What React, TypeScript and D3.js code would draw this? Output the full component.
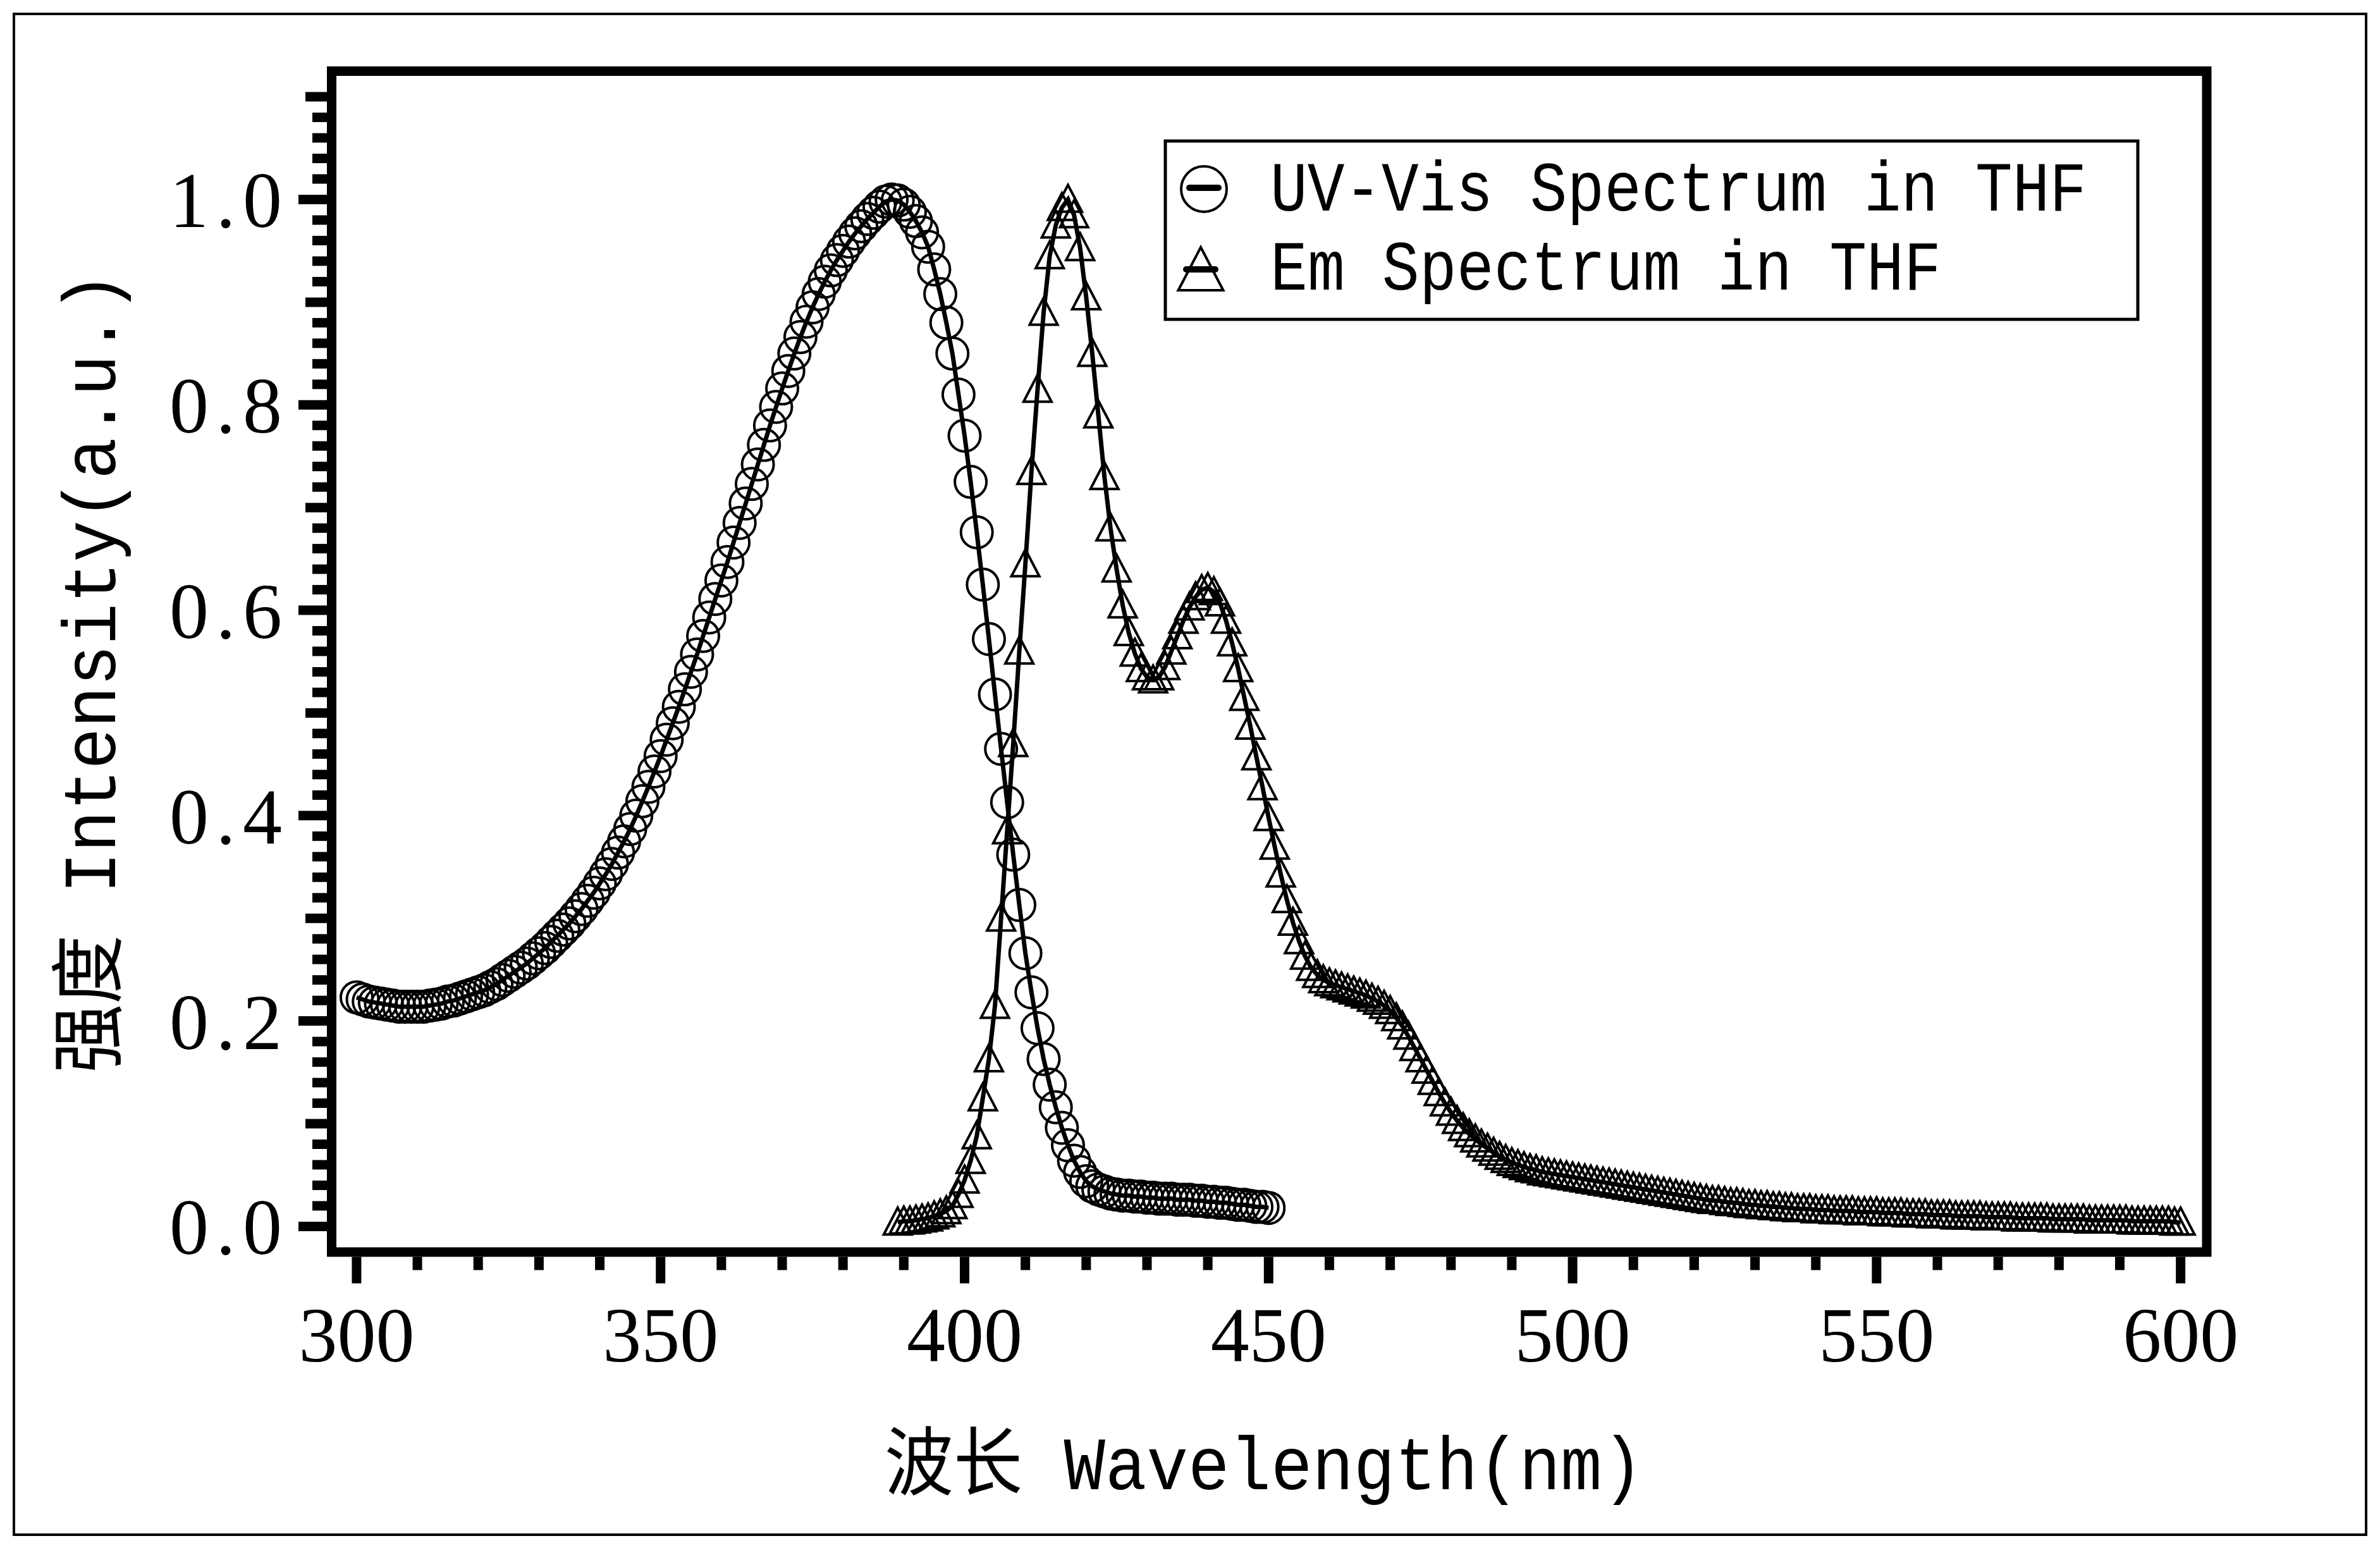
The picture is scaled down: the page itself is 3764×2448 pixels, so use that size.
import React, { useEffect, useRef } from 'react';
import * as d3 from 'd3';

const W = 3764;
const H = 2448;

// UV-Vis absorption, one point per nm starting at 300 nm
const uvStart = 300;
const uvValues = [
  0.223, 0.221, 0.219, 0.218, 0.217, 0.216, 0.215, 0.214, 0.214, 0.214,
  0.214, 0.214, 0.215, 0.216, 0.217, 0.219, 0.220, 0.222, 0.224, 0.226,
  0.228, 0.230, 0.233, 0.236, 0.240, 0.244, 0.248, 0.252, 0.256, 0.261,
  0.266, 0.271, 0.277, 0.283, 0.289, 0.295, 0.302, 0.309, 0.317, 0.325,
  0.334, 0.343, 0.353, 0.364, 0.375, 0.387, 0.400, 0.414, 0.428, 0.443,
  0.458, 0.474, 0.490, 0.506, 0.523, 0.540, 0.557, 0.575, 0.593, 0.611,
  0.629, 0.647, 0.666, 0.685, 0.704, 0.723, 0.742, 0.761, 0.780, 0.798,
  0.816, 0.833, 0.850, 0.866, 0.881, 0.895, 0.908, 0.920, 0.931, 0.941,
  0.950, 0.959, 0.967, 0.974, 0.981, 0.987, 0.993, 0.998, 1.000, 0.999,
  0.995, 0.988, 0.979, 0.968, 0.954, 0.932, 0.908, 0.880, 0.850, 0.810,
  0.770, 0.725, 0.676, 0.625, 0.572, 0.518, 0.465, 0.413, 0.362, 0.313,
  0.266, 0.228, 0.193, 0.163, 0.138, 0.116, 0.096, 0.079, 0.064, 0.053,
  0.044, 0.039, 0.036, 0.034, 0.032, 0.031, 0.030, 0.030, 0.029, 0.029,
  0.028, 0.028, 0.027, 0.027, 0.027, 0.026, 0.026, 0.026, 0.025, 0.025,
  0.024, 0.024, 0.023, 0.023, 0.022, 0.021, 0.021, 0.020, 0.019, 0.019,
  0.018,
];

// emission, one point per nm starting at 389 nm
const emStart = 389;
const emValues = [
  0.004, 0.005, 0.005, 0.006, 0.007, 0.008, 0.010, 0.012, 0.015, 0.020,
  0.031, 0.045, 0.064, 0.088, 0.125, 0.163, 0.215, 0.300, 0.385, 0.470,
  0.560, 0.645, 0.735, 0.815, 0.890, 0.945, 0.975, 0.992, 1.000, 0.985,
  0.953, 0.905, 0.850, 0.790, 0.730, 0.680, 0.640, 0.605, 0.578, 0.558,
  0.543, 0.535, 0.532, 0.535, 0.545, 0.560, 0.575, 0.590, 0.603, 0.613,
  0.620, 0.622, 0.618, 0.607, 0.590, 0.568, 0.543, 0.515, 0.487, 0.457,
  0.428, 0.398, 0.370, 0.343, 0.318, 0.296, 0.278, 0.263, 0.252, 0.245,
  0.240, 0.237, 0.235, 0.233, 0.231, 0.229, 0.227, 0.225, 0.222, 0.219,
  0.215, 0.210, 0.203, 0.195, 0.185, 0.174, 0.163, 0.152, 0.141, 0.130,
  0.120, 0.111, 0.103, 0.096, 0.090, 0.085, 0.080, 0.076, 0.072, 0.068,
  0.065, 0.062, 0.060, 0.058, 0.056, 0.055, 0.053, 0.052, 0.051, 0.050,
  0.049, 0.048, 0.047, 0.046, 0.045, 0.044, 0.043, 0.042, 0.041, 0.040,
  0.039, 0.038, 0.037, 0.036, 0.035, 0.034, 0.033, 0.032, 0.031, 0.030,
  0.029, 0.028, 0.027, 0.026, 0.025, 0.025, 0.024, 0.023, 0.023, 0.022,
  0.021, 0.021, 0.020, 0.020, 0.019, 0.019, 0.018, 0.018, 0.017, 0.017,
  0.017, 0.016, 0.016, 0.016, 0.015, 0.015, 0.015, 0.015, 0.014, 0.014,
  0.014, 0.014, 0.013, 0.013, 0.013, 0.013, 0.012, 0.012, 0.012, 0.012,
  0.011, 0.011, 0.011, 0.011, 0.010, 0.010, 0.010, 0.010, 0.010, 0.009,
  0.009, 0.009, 0.009, 0.009, 0.008, 0.008, 0.008, 0.008, 0.008, 0.008,
  0.007, 0.007, 0.007, 0.007, 0.007, 0.007, 0.006, 0.006, 0.006, 0.006,
  0.006, 0.006, 0.006, 0.005, 0.005, 0.005, 0.005, 0.005, 0.005, 0.005,
  0.004, 0.004,
];

const xTickLabels = [300, 350, 400, 450, 500, 550, 600];
const yTickLabels = ['0.0', '0.2', '0.4', '0.6', '0.8', '1.0'];
const legendLabels = ['UV-Vis Spectrum in THF', 'Em Spectrum in THF'];
const xTitle = '波长 Wavelength(nm)';
const yTitle = '强度 Intensity(a.u.)';

const monoFont = '"Liberation Mono", "DejaVu Sans Mono", "Noto Sans CJK SC", monospace';
const serifFont = '"Liberation Serif", "DejaVu Serif", serif';

const trianglePath = (s: number) =>
  `M0,${-s} L${s * 0.96},${s * 0.84} L${-s * 0.96},${s * 0.84} Z`;

const App = () => {
  const ref = useRef<SVGSVGElement>(null);

  useEffect(() => {
    document.body.style.margin = '0';
    const svg = d3.select(ref.current);
    svg.selectAll('*').remove();

    const x = d3.scaleLinear().domain([295.9, 604.3]).range([524.5, 3490]);
    const y = d3.scaleLinear().domain([-0.025, 1.125]).range([1980, 112.5]);
    const [x0, x1] = x.range();
    const [y0, y1] = y.range();
    const axisW = 15;

    // outer border
    svg.append('rect')
      .attr('x', 22).attr('y', 22).attr('width', 3720).attr('height', 2405)
      .attr('fill', '#fff').attr('stroke', '#000').attr('stroke-width', 4);

    const uv = uvValues.map((v, i) => ({ w: uvStart + i, v }));
    const em = emValues.map((v, i) => ({ w: emStart + i, v }));

    const line = d3.line<{ w: number; v: number }>()
      .x(d => x(d.w))
      .y(d => y(d.v));

    // curves
    svg.append('path').datum(uv)
      .attr('d', line).attr('fill', 'none').attr('stroke', '#000').attr('stroke-width', 7);
    svg.append('path').datum(em)
      .attr('d', line).attr('fill', 'none').attr('stroke', '#000').attr('stroke-width', 7);

    svg.append('g').selectAll('circle')
      .data(uv).enter().append('circle')
      .attr('cx', d => x(d.w)).attr('cy', d => y(d.v)).attr('r', 25)
      .attr('fill', 'none').attr('stroke', '#000').attr('stroke-width', 4);

    svg.append('g').selectAll('path')
      .data(em).enter().append('path')
      .attr('d', trianglePath(23))
      .attr('transform', d => `translate(${x(d.w)},${y(d.v)})`)
      .attr('fill', 'none').attr('stroke', '#000').attr('stroke-width', 4)
      .attr('stroke-linejoin', 'miter');

    // plot frame
    svg.append('rect')
      .attr('x', x0).attr('y', y1).attr('width', x1 - x0).attr('height', y0 - y1)
      .attr('fill', 'none').attr('stroke', '#000').attr('stroke-width', axisW);

    // x ticks
    const xTicks = d3.range(300, 601, 10);
    svg.append('g').selectAll('line')
      .data(xTicks).enter().append('line')
      .attr('x1', d => x(d)).attr('x2', d => x(d))
      .attr('y1', y0 + axisW / 2)
      .attr('y2', d => y0 + axisW / 2 + (d % 50 === 0 ? 42 : 21))
      .attr('stroke', '#000').attr('stroke-width', 15);

    // y ticks
    const yTicks = d3.range(0, 56);
    svg.append('g').selectAll('line')
      .data(yTicks).enter().append('line')
      .attr('y1', d => y(d / 50)).attr('y2', d => y(d / 50))
      .attr('x1', x0 - axisW / 2)
      .attr('x2', d => x0 - axisW / 2 - (d % 10 === 0 ? 45 : d % 5 === 0 ? 34 : 23))
      .attr('stroke', '#000').attr('stroke-width', 15);

    // tick labels
    svg.append('g').selectAll('text')
      .data(xTickLabels).enter().append('text')
      .attr('x', d => x(d)).attr('y', 2153)
      .attr('text-anchor', 'middle')
      .style('font-family', serifFont).style('font-size', '122px')
      .text(d => String(d));

    svg.append('g').selectAll('text')
      .data(yTickLabels).enter().append('text')
      .attr('x', 268).attr('y', d => y(+d) + 44)
      .attr('textLength', 178).attr('lengthAdjust', 'spacing')
      .style('font-family', serifFont).style('font-size', '124px')
      .text(d => d);

    // axis titles
    svg.append('text')
      .attr('x', 1399).attr('y', 2355)
      .attr('textLength', 1200).attr('lengthAdjust', 'spacingAndGlyphs')
      .style('font-family', monoFont).style('font-size', '118px')
      .text(xTitle);

    svg.append('text')
      .attr('transform', 'translate(182,1697) rotate(-90)')
      .attr('textLength', 1267).attr('lengthAdjust', 'spacingAndGlyphs')
      .style('font-family', monoFont).style('font-size', '118px')
      .text(yTitle);

    // legend
    const lg = svg.append('g');
    lg.append('rect')
      .attr('x', 1843).attr('y', 223).attr('width', 1538).attr('height', 282)
      .attr('fill', '#fff').attr('stroke', '#000').attr('stroke-width', 5);

    lg.append('circle')
      .attr('cx', 1904).attr('cy', 299).attr('r', 36)
      .attr('fill', 'none').attr('stroke', '#000').attr('stroke-width', 4);
    lg.append('line')
      .attr('x1', 1881).attr('x2', 1927).attr('y1', 297).attr('y2', 297)
      .attr('stroke', '#000').attr('stroke-width', 10).attr('stroke-linecap', 'round');

    lg.append('path')
      .attr('d', trianglePath(37))
      .attr('transform', 'translate(1899,428)')
      .attr('fill', 'none').attr('stroke', '#000').attr('stroke-width', 4);
    lg.append('line')
      .attr('x1', 1876).attr('x2', 1922).attr('y1', 426).attr('y2', 426)
      .attr('stroke', '#000').attr('stroke-width', 10).attr('stroke-linecap', 'round');

    const legendRows = [
      { label: legendLabels[0], base: 333, len: 1291 },
      { label: legendLabels[1], base: 458, len: 1061 },
    ];
    lg.selectAll('text.lbl')
      .data(legendRows).enter().append('text')
      .attr('class', 'lbl')
      .attr('x', 2009).attr('y', d => d.base)
      .attr('textLength', d => d.len).attr('lengthAdjust', 'spacingAndGlyphs')
      .style('font-family', monoFont).style('font-size', '112px')
      .text(d => d.label);
  }, []);

  return (
    <svg
      ref={ref}
      width={W}
      height={H}
      style={{ display: 'block', background: '#fff' }}
    />
  );
};

export default App;
